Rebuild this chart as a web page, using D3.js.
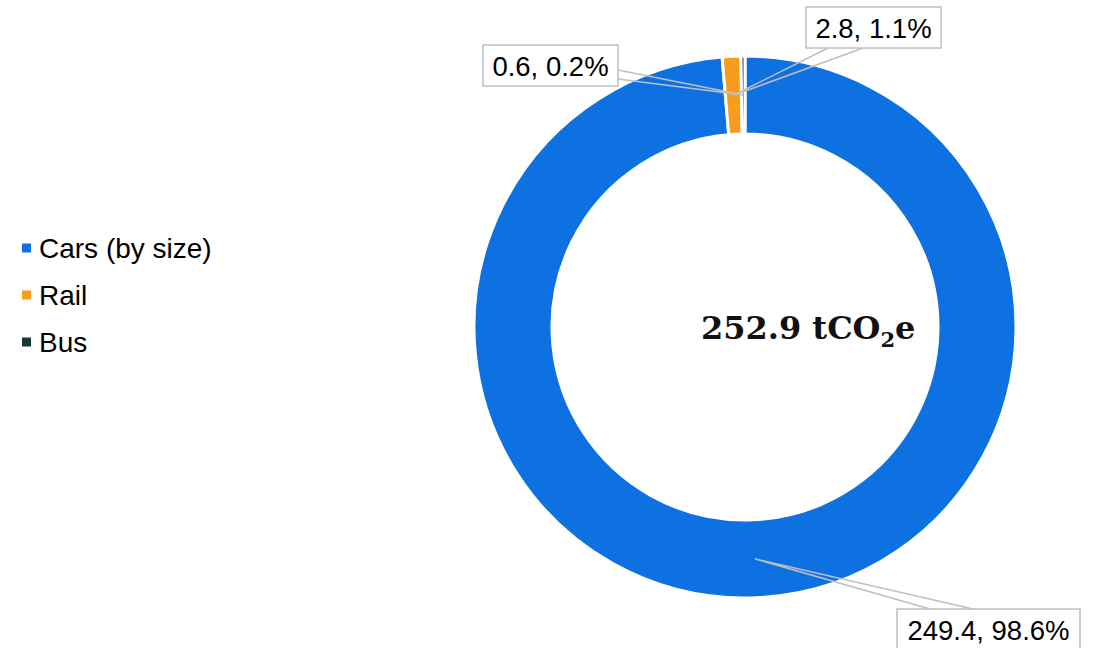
<!DOCTYPE html>
<html>
<head>
<meta charset="utf-8">
<script src="https://cdn.jsdelivr.net/npm/d3@7"></script>
<style>
  body { margin: 0; background: #fff; }
  svg { display: block; }
</style>
</head>
<body>
<div id="chart"></div>
<script>
// data
var categories = ["Cars (by size)", "Rail", "Bus"];
var values = [249.4, 2.8, 0.6];
var percents = ["98.6%", "1.1%", "0.2%"];
var colors = ["#0e71e2", "#f99c1d", "#1d3a3b"];
var totalLabel = "252.9";

var svgWidth = 1094;
var svgHeight = 648;

var cx = 745, cy = 327;
var outerR = 271, innerR = 193;

var svg = d3.select("#chart")
  .append("svg")
  .attr("width", svgWidth)
  .attr("height", svgHeight);

var slices = categories.map(function(c, i) {
  return { name: c, value: values[i], pct: percents[i], color: colors[i] };
});

var pie = d3.pie()
  .sort(null)
  .value(d => d.value);

var arc = d3.arc()
  .innerRadius(innerR)
  .outerRadius(outerR);

var midArc = d3.arc()
  .innerRadius((innerR + outerR) / 2)
  .outerRadius((innerR + outerR) / 2);

var arcs = pie(slices);

var ring = svg.append("g")
  .attr("transform", `translate(${cx}, ${cy})`);

ring.selectAll("path")
  .data(arcs)
  .enter()
  .append("path")
  .attr("d", arc)
  .attr("fill", d => d.data.color)
  .attr("stroke", "#fff")
  .attr("stroke-width", 3)
  .attr("stroke-linejoin", "round");

// data label boxes (placement only)
var labelBoxes = {
  "Cars (by size)": { x: 897, y: 609, w: 183, h: 41, side: "top", b1: 33, b2: 76 },
  "Rail":           { x: 806, y: 7,   w: 135, h: 41, side: "bottom", b1: 22, b2: 57 },
  "Bus":            { x: 483, y: 45,  w: 135, h: 41, side: "right", b1: 25, b2: 34 }
};

var labels = svg.append("g");

arcs.forEach(function(a) {
  var box = labelBoxes[a.data.name];
  var c = midArc.centroid(a);
  var tip = [cx + c[0], cy + c[1]];
  var p1, p2;
  if (box.side === "top") {
    p1 = [box.x + box.b1, box.y];
    p2 = [box.x + box.b2, box.y];
  } else if (box.side === "bottom") {
    p1 = [box.x + box.b1, box.y + box.h];
    p2 = [box.x + box.b2, box.y + box.h];
  } else {
    p1 = [box.x + box.w, box.y + box.b1];
    p2 = [box.x + box.w, box.y + box.b2];
  }
  labels.append("path")
    .attr("d", d3.line()([p1, tip, p2]))
    .attr("fill", "none")
    .attr("stroke", "#bfbfbf")
    .attr("stroke-width", 1.5)
    .attr("stroke-linejoin", "miter");

  labels.append("rect")
    .attr("x", box.x)
    .attr("y", box.y)
    .attr("width", box.w)
    .attr("height", box.h)
    .attr("fill", "#fff")
    .attr("stroke", "#bfbfbf")
    .attr("stroke-width", 1.5);

  labels.append("text")
    .attr("x", box.x + box.w / 2)
    .attr("y", box.y + box.h / 2 + 10)
    .attr("text-anchor", "middle")
    .style("font-family", "'Liberation Sans', Arial, sans-serif")
    .style("font-size", "27.5px")
    .style("fill", "#000")
    .text(a.data.value + ", " + a.data.pct);
});

// centre total
var total = svg.append("text")
  .attr("x", 701)
  .attr("y", 339)
  .style("font-family", "'DejaVu Serif', Georgia, serif")
  .style("font-weight", "bold")
  .style("font-size", "32px")
  .style("fill", "#111");
total.append("tspan").text(totalLabel + " tCO");
total.append("tspan")
  .attr("dy", 8)
  .style("font-size", "21px")
  .text("2");
total.append("tspan")
  .attr("dy", -8)
  .text("e");

// legend
var legend = svg.append("g")
  .attr("transform", "translate(22, 248)");

var legendItem = legend.selectAll("g")
  .data(slices)
  .enter()
  .append("g")
  .attr("transform", (d, i) => `translate(0, ${i * 47})`);

legendItem.append("rect")
  .attr("x", 0)
  .attr("y", -4.5)
  .attr("width", 9)
  .attr("height", 9)
  .attr("fill", d => d.color);

legendItem.append("text")
  .attr("x", 17)
  .attr("y", 10)
  .style("font-family", "'Liberation Sans', Arial, sans-serif")
  .style("font-size", "28px")
  .style("fill", "#000")
  .text(d => d.name);
</script>
</body>
</html>
